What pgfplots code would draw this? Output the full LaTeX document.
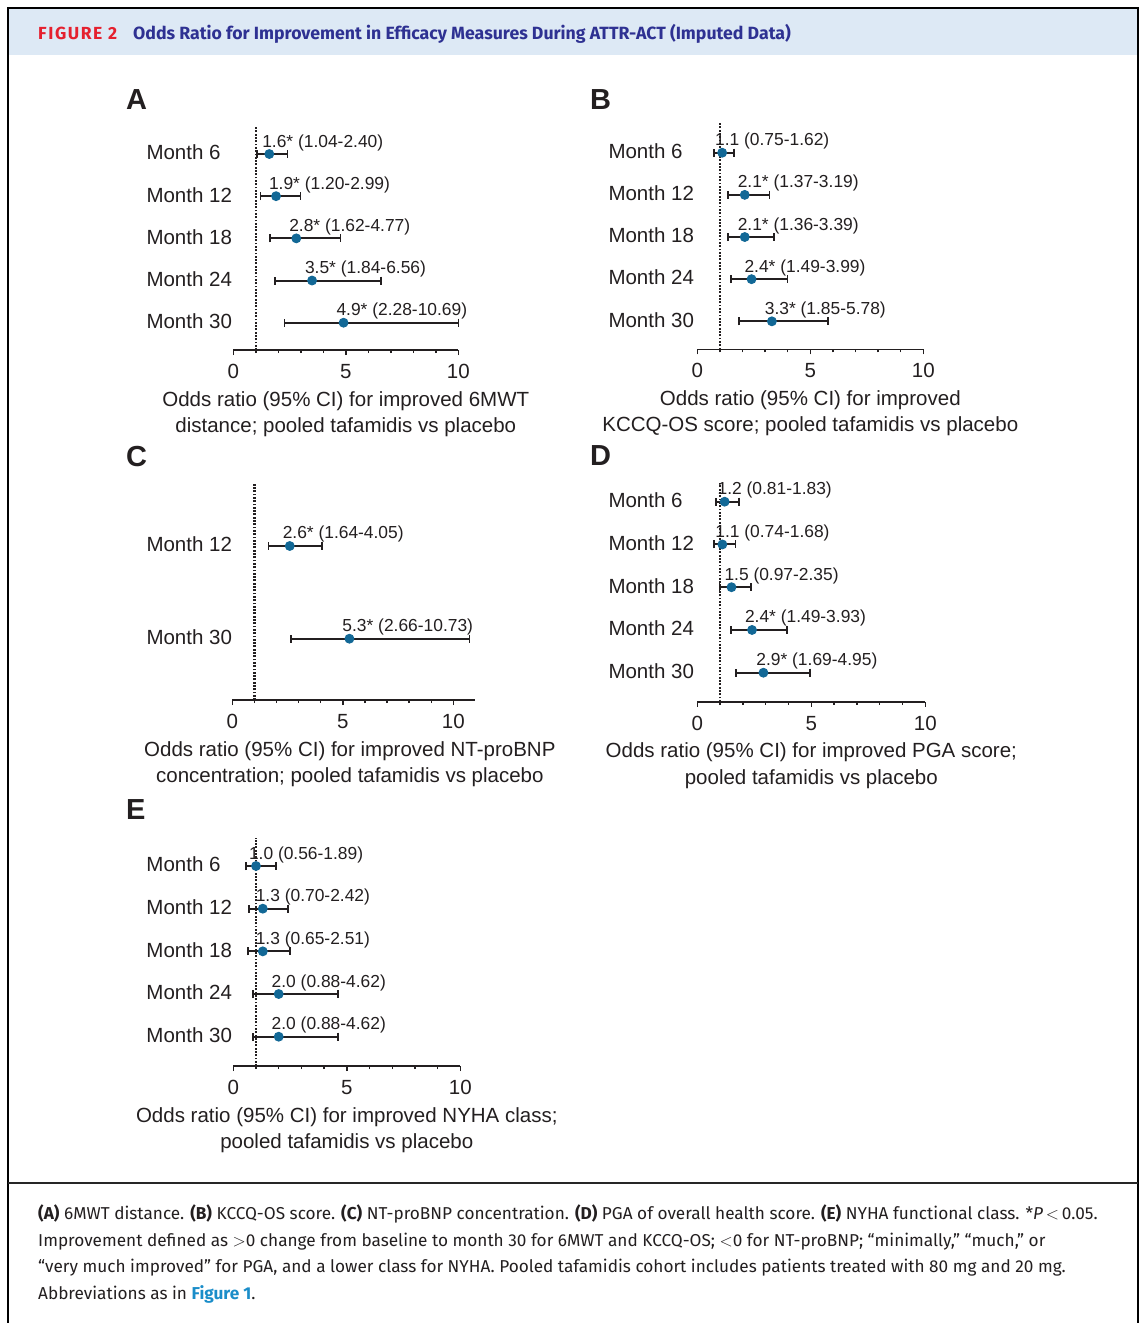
\documentclass[border=0pt]{standalone}
\usepackage{pgfplots}
\pgfplotsset{compat=1.18}
\usepackage{pgfplotstable}
\usepackage{fontspec}
\setmainfont{Liberation Sans}
\newfontfamily\capfont{Fira Sans}
\definecolor{dotc}{RGB}{18,104,150}
\definecolor{txt}{RGB}{35,31,32}
\definecolor{hdr}{RGB}{221,233,245}
\definecolor{figred}{RGB}{229,32,46}
\definecolor{navy}{RGB}{46,49,146}
\definecolor{linkc}{RGB}{26,141,201}
\newcommand{\lblfont}{\fontsize{20.5}{26.5}\selectfont}
\newcommand{\annfont}{\fontsize{17.4}{20}\selectfont}
\newcommand{\capsz}{\capfont\fontsize{17.2}{20}\selectfont}

\pgfplotstableread[col sep=comma]{
or,row,lo,hi,lab
1.6,5,1.04,2.40,1.6* (1.04-2.40)
1.9,4,1.20,2.99,1.9* (1.20-2.99)
2.8,3,1.62,4.77,2.8* (1.62-4.77)
3.5,2,1.84,6.56,3.5* (1.84-6.56)
4.9,1,2.28,10.0,4.9* (2.28-10.69)
}\tabA
\pgfplotstableread[col sep=comma]{
or,row,lo,hi,lab
1.1,5,0.75,1.62,1.1 (0.75-1.62)
2.1,4,1.37,3.19,2.1* (1.37-3.19)
2.1,3,1.36,3.39,2.1* (1.36-3.39)
2.4,2,1.49,3.99,2.4* (1.49-3.99)
3.3,1,1.85,5.78,3.3* (1.85-5.78)
}\tabB
\pgfplotstableread[col sep=comma]{
or,row,lo,hi,lab
2.6,2,1.64,4.05,2.6* (1.64-4.05)
5.3,1,2.66,10.73,5.3* (2.66-10.73)
}\tabC
\pgfplotstableread[col sep=comma]{
or,row,lo,hi,lab
1.2,5,0.81,1.83,1.2 (0.81-1.83)
1.1,4,0.74,1.68,1.1 (0.74-1.68)
1.5,3,0.97,2.35,1.5 (0.97-2.35)
2.4,2,1.49,3.93,2.4* (1.49-3.93)
2.9,1,1.69,4.95,2.9* (1.69-4.95)
}\tabD
\pgfplotstableread[col sep=comma]{
or,row,lo,hi,lab
1.0,5,0.56,1.89,1.0 (0.56-1.89)
1.3,4,0.70,2.42,1.3 (0.70-2.42)
1.3,3,0.65,2.51,1.3 (0.65-2.51)
2.0,2,0.88,4.62,2.0 (0.88-4.62)
2.0,1,0.88,4.62,2.0 (0.88-4.62)
}\tabE

\tikzset{refl/.style={txt, line width=2.4pt, dash pattern=on 1.8pt off 1.5pt}}
\pgfplotsset{
 every error bar/.style={line width=2pt, draw=txt, solid},
 forest/.style={
  scale only axis, clip=false, enlargelimits=false,
  xmin=0,
  axis x line=bottom, axis y line=left,
  axis line style={-},
  x axis line style={line width=1.6pt, txt},
  y axis line style={draw=none},
  xtick={0,5,10}, minor xtick={1,2,3,4,6,7,8,9},
  tick align=outside,
  major tick length=5pt, minor tick length=3pt,
  xtick style={line width=1.4pt, txt},
  ytick style={draw=none},
  every tick label/.append style={font=\lblfont, text=txt},
  xticklabel style={inner sep=0pt, yshift=-9pt},
  yticklabel style={anchor=west, inner sep=0pt, yshift=1.5pt},
  /pgf/number format/assume math mode=true,
  xlabel style={font=\lblfont, text=txt, align=center, at={(axis description cs:0.5,0)}, anchor=north, inner sep=0pt, yshift=-41pt},
  nodes near coords, point meta=explicit symbolic,
  every node near coord/.append style={font=\annfont, text=txt, anchor=base west, xshift=-7.5pt, yshift=7pt, inner sep=0pt},
 },
 fp/.style={only marks, mark=*, mark size=4.4pt, mark options={fill=dotc, draw=dotc, line width=1pt},
  error bars/.cd, x dir=both, x explicit,
  error mark=|,
  error bar style={line width=2pt, draw=txt, solid},
  error mark options={line width=1.6pt, draw=txt, mark size=4pt, solid}},
}
\newcommand{\fplot}[1]{\addplot[fp] table[x=or, y=row, x error plus expr=\thisrow{hi}-\thisrow{or}, x error minus expr=\thisrow{or}-\thisrow{lo}, meta=lab] {#1};}

\begin{document}
\begin{tikzpicture}
\useasboundingbox (0,0) rectangle (1142pt,-1323pt);
\fill[white] (0,0) rectangle (1142pt,-1323pt);
\fill[hdr] (9pt,-9pt) rectangle (1137pt,-55pt);
\draw[line width=2pt] (8pt,-1330pt) -- (8pt,-8pt) -- (1138pt,-8pt) -- (1138pt,-1330pt);
\draw[line width=1.3pt, black!85] (8pt,-1183pt) -- (1138pt,-1183pt);

\node[anchor=base west, inner sep=0pt] at (38pt,-39pt) {\capfont\bfseries\fontsize{17.5}{20}\selectfont\addfontfeatures{LetterSpace=9}\color{figred}FIGURE 2};
\node[anchor=base west, inner sep=0pt] at (133pt,-39pt) {\capfont\bfseries\fontsize{17.7}{20}\selectfont\color{navy}Odds Ratio for Improvement in Efficacy Measures During ATTR-ACT (Imputed Data)};

\node[anchor=base west, inner sep=0pt, text=txt] at (38pt,-1219pt) {\capsz\textbf{(A)} 6MWT distance. \textbf{(B)} KCCQ-OS score. \textbf{(C)} NT-proBNP concentration. \textbf{(D)} PGA of overall health score. \textbf{(E)} NYHA functional class. *\textit{P}\,$<$\,0.05.};
\node[anchor=base west, inner sep=0pt, text=txt] at (38pt,-1246pt) {\capsz Improvement defined as $>$0 change from baseline to month 30 for 6MWT and KCCQ-OS; $<$0 for NT-proBNP; “minimally,” “much,” or};
\node[anchor=base west, inner sep=0pt, text=txt] at (38pt,-1272.5pt) {\capsz “very much improved” for PGA, and a lower class for NYHA. Pooled tafamidis cohort includes patients treated with 80 mg and 20 mg.};
\node[anchor=base west, inner sep=0pt, text=txt] at (38pt,-1299pt) {\capsz Abbreviations as in \textbf{\color{linkc}Figure 1}.};

\node[anchor=base west, inner sep=0pt, text=txt] at (126pt,-109pt) {\fontsize{29}{30}\selectfont\bfseries A};
\node[anchor=base west, inner sep=0pt, text=txt] at (590pt,-109pt) {\fontsize{29}{30}\selectfont\bfseries B};
\node[anchor=base west, inner sep=0pt, text=txt] at (126pt,-466pt) {\fontsize{29}{30}\selectfont\bfseries C};
\node[anchor=base west, inner sep=0pt, text=txt] at (590pt,-465pt) {\fontsize{29}{30}\selectfont\bfseries D};
\node[anchor=base west, inner sep=0pt, text=txt] at (126pt,-819pt) {\fontsize{29}{30}\selectfont\bfseries E};

% Panel A
\begin{axis}[forest, at={(233.3pt,-350pt)}, anchor=south west, width=225pt, height=224pt,
  xmax=10, ymin=0.353, ymax=5.664, ytick={1,2,3,4,5},
  yticklabels={Month 30,Month 24,Month 18,Month 12,Month 6}, yticklabel style={xshift=-82pt},
  xlabel={Odds ratio (95\% CI) for improved 6MWT\\distance; pooled tafamidis vs placebo}]
\draw[refl] (axis cs:1,0.353) -- (axis cs:1,5.664);
\fplot{\tabA}
\end{axis}

% Panel B
\begin{axis}[forest, at={(697.3pt,-349.3pt)}, anchor=south west, width=226pt, height=226.3pt,
  xmax=10, ymin=0.336, ymax=5.705, ytick={1,2,3,4,5},
  yticklabels={Month 30,Month 24,Month 18,Month 12,Month 6}, yticklabel style={xshift=-84pt},
  xlabel={Odds ratio (95\% CI) for improved\\KCCQ-OS score; pooled tafamidis vs placebo}]
\draw[refl] (axis cs:1,0.336) -- (axis cs:1,5.705);
\fplot{\tabB}
\end{axis}

% Panel C
\begin{axis}[forest, at={(232.3pt,-700pt)}, anchor=south west, width=243.1pt, height=216.7pt,
  xmax=11, ymin=0.339, ymax=2.676, ytick={1,2},
  yticklabels={Month 30,Month 12}, yticklabel style={xshift=-81pt},
  xlabel style={xshift=-4pt},
  xlabel={Odds ratio (95\% CI) for improved NT-proBNP\\concentration; pooled tafamidis vs placebo}]
\draw[refl] (axis cs:1,0.339) -- (axis cs:1,2.676);
\fplot{\tabC}
\end{axis}

% Panel D
\begin{axis}[forest, at={(697.3pt,-701.7pt)}, anchor=south west, width=228pt, height=218.4pt,
  xmax=10, ymin=0.322, ymax=5.430, ytick={1,2,3,4,5},
  yticklabels={Month 30,Month 24,Month 18,Month 12,Month 6}, yticklabel style={xshift=-84pt},
  xlabel={Odds ratio (95\% CI) for improved PGA score;\\pooled tafamidis vs placebo}]
\draw[refl] (axis cs:1,0.322) -- (axis cs:1,5.430);
\fplot{\tabD}
\end{axis}

% Panel E
\begin{axis}[forest, at={(233.3pt,-1066pt)}, anchor=south west, width=227pt, height=228pt,
  xmax=10, ymin=0.313, ymax=5.656, ytick={1,2,3,4,5},
  yticklabels={Month 30,Month 24,Month 18,Month 12,Month 6}, yticklabel style={xshift=-82pt},
  xlabel={Odds ratio (95\% CI) for improved NYHA class;\\pooled tafamidis vs placebo}]
\draw[refl] (axis cs:1,0.313) -- (axis cs:1,5.656);
\fplot{\tabE}
\end{axis}
\end{tikzpicture}
\end{document}
